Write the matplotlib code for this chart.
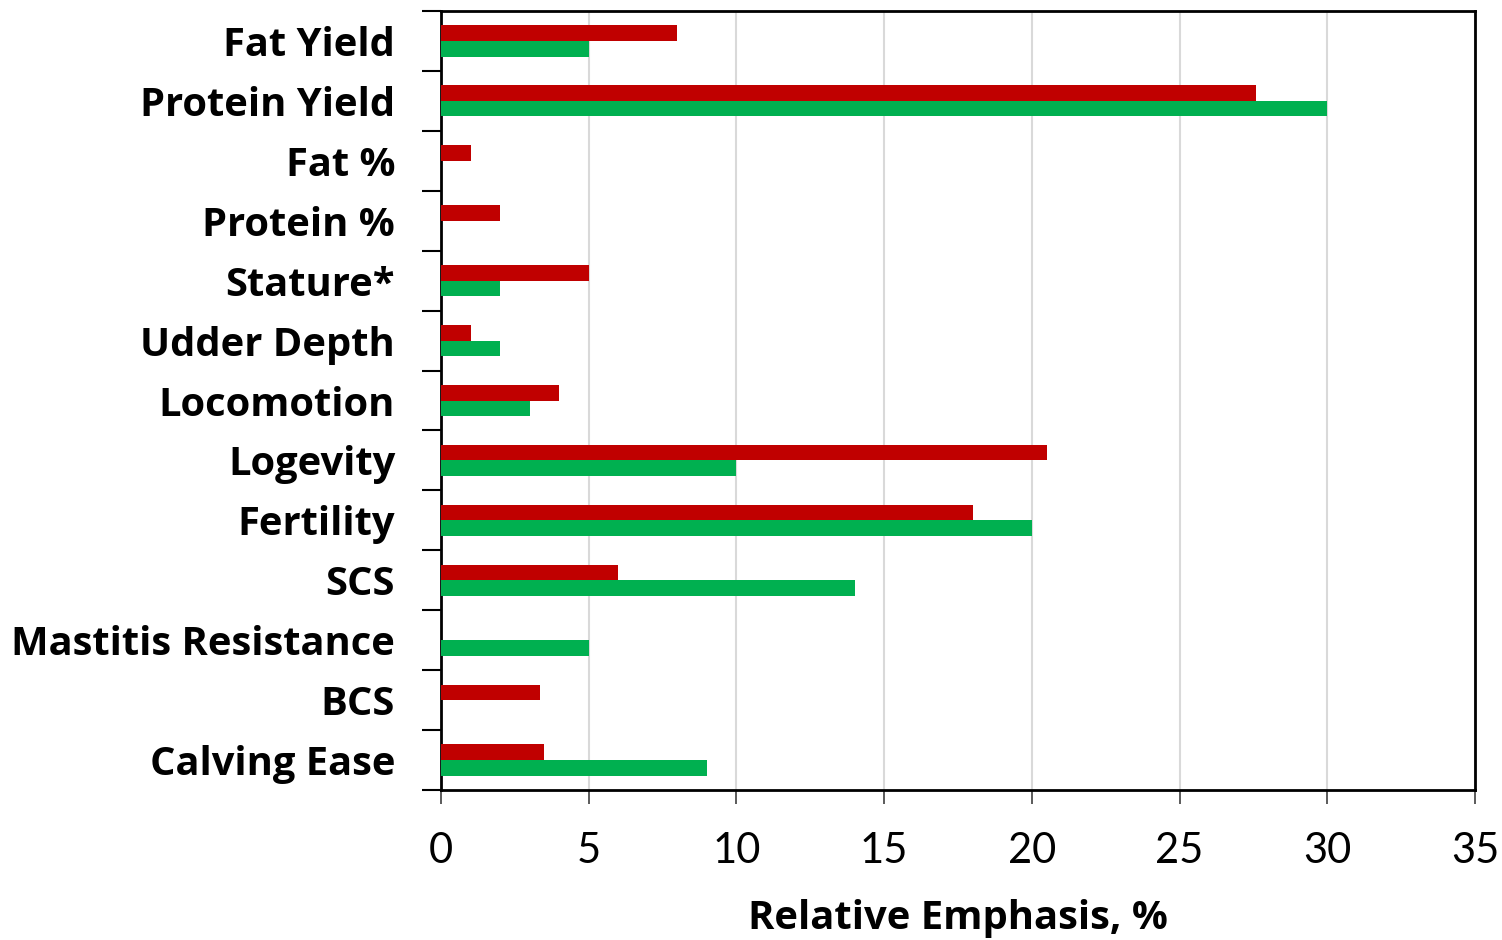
import matplotlib
matplotlib.use("Agg")
import matplotlib.pyplot as plt
import numpy as np

categories = ["Fat Yield", "Protein Yield", "Fat %", "Protein %", "Stature*",
              "Udder Depth", "Locomotion", "Logevity", "Fertility", "SCS",
              "Mastitis Resistance", "BCS", "Calving Ease"]
red_values = [8, 27.6, 1, 2, 5, 1, 4, 20.5, 18, 6, 0, 3.35, 3.5]
green_values = [5, 30, 0, 0, 2, 2, 3, 10, 20, 14, 5, 0, 9]
x_ticks = [0, 5, 10, 15, 20, 25, 30, 35]

plt.rcParams['font.family'] = ['Lato', 'DejaVu Sans']

fig = plt.figure(figsize=(15.02, 9.40), dpi=100)
ax = fig.add_axes([441/1502, 1-790/940, (1475-441)/1502, (790-11)/940])

n = len(categories)
y = np.arange(n)
h = 0.26
ax.barh(y - h/2, red_values, height=h, color="#C00000", zorder=3)
ax.barh(y + h/2, green_values, height=h, color="#00B050", zorder=3)

ax.set_ylim(n - 0.5, -0.5)
ax.set_xlim(0, 35)
ax.set_xticks(x_ticks)
ax.set_xticklabels([str(t) for t in x_ticks], fontsize=30)
ax.set_yticks(y)
ax.set_yticklabels(categories, fontsize=28.7, fontweight='bold',
                   family=['Open Sans', 'DejaVu Sans'])
ax.tick_params(axis='y', length=0, pad=33)
ax.set_yticks(np.arange(n + 1) - 0.5, minor=True)
ax.tick_params(axis='y', which='minor', length=14, width=1.5, color='black')
ax.tick_params(axis='x', length=10, width=1.2, color='#404040', pad=20)
ax.xaxis.grid(True, color='#D9D9D9', linewidth=1.5, zorder=0)
ax.set_axisbelow(True)
for s in ax.spines.values():
    s.set_linewidth(2)
    s.set_color('black')
ax.set_xlabel("Relative Emphasis, %", fontsize=28.8, fontweight='bold',
              family=['Open Sans', 'DejaVu Sans'], labelpad=21)

fig.savefig("out.png", dpi=100)
